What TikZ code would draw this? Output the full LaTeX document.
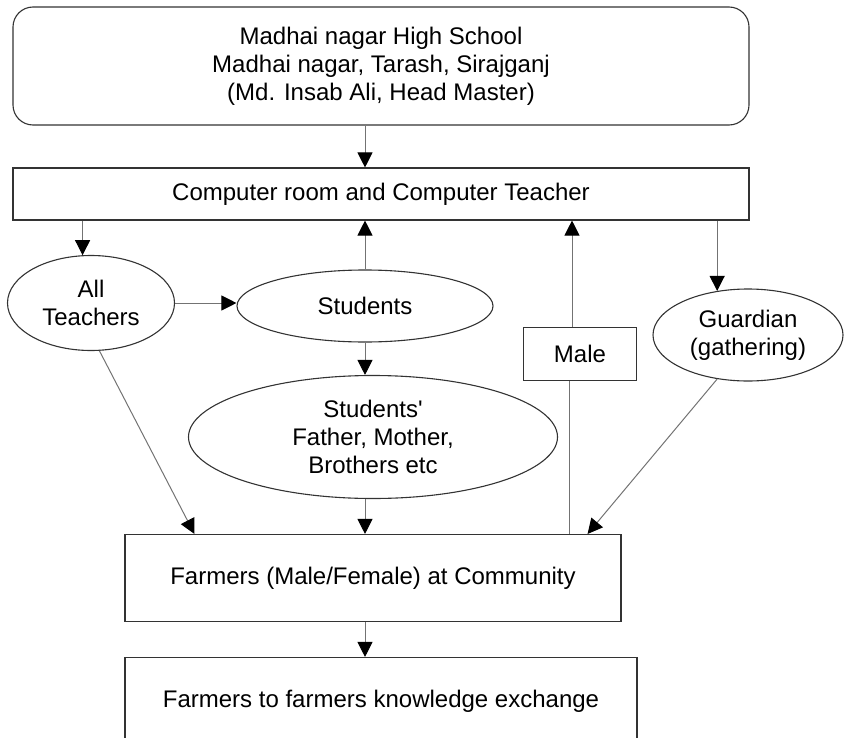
\documentclass[tikz,border=0pt]{standalone}
\usepackage{fontspec}
\setmainfont{Liberation Sans}
\usepackage{tikz}
\usetikzlibrary{shapes.geometric, arrows.meta}
\tikzset{
	headbox/.style={rectangle, rounded corners=10pt, minimum width=368pt, minimum height=59pt, align=center, draw=black!80, line width=0.55pt, inner sep=0pt},
	process/.style={rectangle, align=center, draw=black!80, line width=0.55pt, inner sep=0pt},
	oval/.style={ellipse, align=center, draw=black!80, line width=0.55pt, inner sep=0pt},
	arrow/.style={draw=black!55, line width=0.5pt, -{Triangle[length=7.5pt,width=7.5pt,color=black]}},
	link/.style={draw=black!55, line width=0.5pt}
}

\begin{document}
\begin{tikzpicture}[x=0.5pt, y=-0.5pt, font=\fontsize{12}{14}\selectfont]
		
		\clip (0,0) rectangle (845,738);
		
		% Nodes
		\node (school) [headbox] at (381,66) {Madhai nagar High School\\Madhai nagar, Tarash, Sirajganj\\(Md. Insab Ali, Head Master)};
		\node (computer) [process, minimum width=368pt, minimum height=26pt] at (381,194) {Computer room and Computer Teacher};
		\node (teachers) [oval, minimum width=83.5pt, minimum height=47.5pt] at (91,303) {All\\Teachers};
		\node (students) [oval, minimum width=128pt, minimum height=36pt] at (365,306) {Students};
		\node (family) [oval, minimum width=184.5pt, minimum height=61.5pt] at (373,437) {Students\textquotesingle\\Father, Mother,\\Brothers etc};
		\node (male) [process, minimum width=56.5pt, minimum height=26.5pt] at (580,354) {Male};
		\node (guardian) [oval, minimum width=95pt, minimum height=46pt] at (748,335) {Guardian\\(gathering)};
		\node (farmers) [process, minimum width=248pt, minimum height=43.5pt] at (373,578) {Farmers (Male/Female) at Community};
		\node (exchange) [process, minimum width=256pt, minimum height=43.5pt] at (381,701) {Farmers to farmers knowledge exchange};
		
		% Line ends
		\coordinate (maletop) at ([xshift=-4pt]male.north);
		\coordinate (malefoot) at ([xshift=-5.5pt]male.south);
		\coordinate (teachersend) at ([xshift=35pt]farmers.north west);
		\coordinate (guardianend) at ([xshift=-17pt]farmers.north east);
		
		% Arrows
		\draw [arrow] (school.south -| students) -- (computer.north -| students);
		\draw [arrow] (computer.south -| teachers.100) -- (teachers.100);
		\draw [arrow] (students.north) -- (computer.south -| students.north);
		\draw [arrow] (maletop) -- (computer.south -| maletop);
		\draw [arrow] (computer.south -| guardian.125) -- (guardian.125);
		\draw [arrow] (teachers.east) -- (teachers.east -| students.west);
		\draw [arrow] (students.south) -- (students.south |- family.north);
		\draw [arrow] (teachers.-80) -- (teachersend);
		\draw [arrow] (family.south -| students) -- (farmers.north -| students);
		\draw [link] (malefoot) -- (malefoot |- farmers.north);
		\draw [arrow] (guardian.-125) -- (guardianend);
		\draw [arrow] (farmers.south -| students) -- (exchange.north -| students);
		
	\end{tikzpicture}
\end{document}
